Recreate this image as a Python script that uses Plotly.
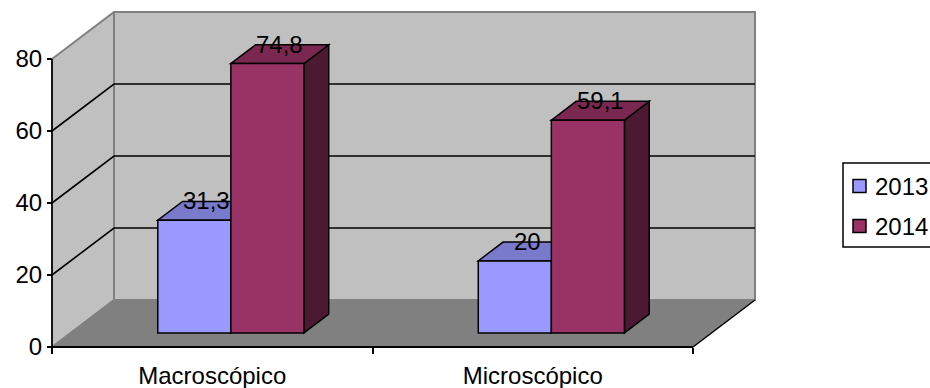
import plotly.graph_objects as go

# ---- data -------------------------------------------------------------
categories = ["Macroscópico", "Microscópico"]
series_names = ["2013", "2014"]
values_2013 = [31.3, 20]
values_2014 = [74.8, 59.1]
value_ticks = [0, 20, 40, 60, 80]

series_values = [values_2013, values_2014]
series_colors = ["#9999FF", "#993366"]

# ---- layout geometry (pixels) -----------------------------------------
W, H = 930, 388
ORIGIN_PX = (52, 347)          # front-floor / y-axis corner
PX_PER_CAT = 320.5             # pixels per category unit
PX_PER_VAL = 3.6               # pixels per value unit
DEPTH_PX = (62, 47)            # oblique offset of the back wall
V_MAX = value_ticks[-1]
N_CAT = len(categories)

DEPTH_X = DEPTH_PX[0] / PX_PER_CAT
DEPTH_Y = DEPTH_PX[1] / PX_PER_VAL
BAR_W = 0.228                  # bar width in category units
BAR_Z = (0.3, 0.7)             # bar depth extent (0 = front, 1 = back wall)

FONT = dict(family="Arial, Liberation Sans, sans-serif", size=24, color="black")


def shade(hex_color, k):
    r, g, b = (int(hex_color[i:i + 2], 16) for i in (1, 3, 5))
    return "#%02X%02X%02X" % (int(r * k), int(g * k), int(b * k))


def P(x, v, z):
    """Oblique projection of (category pos, value, depth) to axis coords."""
    return x + z * DEPTH_X, v + z * DEPTH_Y


def path(points, close=True):
    s = "M " + " L ".join(f"{x:.5f},{y:.5f}" for x, y in points)
    return s + (" Z" if close else "")


shapes = []


def poly(points, fill, line_color="black", line_width=1.5):
    shapes.append(dict(type="path", xref="x", yref="y", path=path(points),
                       fillcolor=fill,
                       line=dict(color=line_color, width=line_width)))


def seg(points, color, width=1.5):
    shapes.append(dict(type="path", xref="x", yref="y", path=path(points, close=False),
                       line=dict(color=color, width=width)))


WALL = "#C0C0C0"
FLOOR = "#808080"
EDGE = "#808080"

# walls and floor
poly([P(0, 0, 0), P(N_CAT, 0, 0), P(N_CAT, 0, 1), P(0, 0, 1)], FLOOR, "rgba(0,0,0,0)", 0)
poly([P(0, 0, 0), P(0, 0, 1), P(0, V_MAX, 1), P(0, V_MAX, 0)], WALL, "rgba(0,0,0,0)", 0)
poly([P(0, 0, 1), P(N_CAT, 0, 1), P(N_CAT, V_MAX, 1), P(0, V_MAX, 1)], WALL, "rgba(0,0,0,0)", 0)

# wall borders
seg([P(0, 0, 0), P(0, 0, 1), P(N_CAT, 0, 1), P(N_CAT, V_MAX, 1),
     P(0, V_MAX, 1), P(0, V_MAX, 0)], EDGE, 2)
seg([P(0, 0, 1), P(0, V_MAX, 1)], EDGE, 2)

# gridlines on the side and back walls
for v in value_ticks[1:-1]:
    seg([P(0, v, 0), P(0, v, 1), P(N_CAT, v, 1)], "black", 1.6)

# floor right edge, x axis line and y axis line
seg([P(N_CAT, 0, 0), P(N_CAT, 0, 1)], "black", 1.5)
seg([P(0, 0, 0), P(N_CAT, 0, 0)], "black", 1.8)
seg([P(0, 0, 0), P(0, V_MAX, 0)], "black", 1.8)

# bars, drawn left to right so each bar hides its left neighbour's side
annotations = []
n_series = len(series_values)
for ci in range(N_CAT):
    group_left = ci + 0.5 - BAR_W * n_series / 2
    for si, vals in enumerate(series_values):
        v = vals[ci]
        x0 = group_left + si * BAR_W
        x1 = x0 + BAR_W
        z0, z1 = BAR_Z
        col = series_colors[si]
        poly([P(x1, 0, z0), P(x1, 0, z1), P(x1, v, z1), P(x1, v, z0)], shade(col, 0.5))
        poly([P(x0, v, z0), P(x1, v, z0), P(x1, v, z1), P(x0, v, z1)], shade(col, 0.8))
        poly([P(x0, 0, z0), P(x1, 0, z0), P(x1, v, z0), P(x0, v, z0)], col)
        lx, ly = P((x0 + x1) / 2, v, (z0 + z1) / 2)
        annotations.append(dict(x=lx, y=ly, xref="x", yref="y", yshift=10,
                                text=f"{v:g}".replace(".", ","),
                                showarrow=False, font=FONT))

# legend box
def px(x):
    return x / W


def py(y):
    return 1 - y / H


shapes.append(dict(type="rect", xref="paper", yref="paper",
                   x0=px(843), x1=px(940), y0=py(247), y1=py(163),
                   fillcolor="white", line=dict(color="black", width=1.5)))
for i, (name, col) in enumerate(zip(series_names, series_colors)):
    cy = 186 + i * 40
    shapes.append(dict(type="rect", xref="paper", yref="paper",
                       x0=px(853), x1=px(866), y0=py(cy + 6.5), y1=py(cy - 6.5),
                       fillcolor=col, line=dict(color="black", width=1.5)))
    annotations.append(dict(x=px(873), y=py(cy), xref="paper", yref="paper",
                            xanchor="left", yanchor="middle", text=name,
                            showarrow=False, font=FONT))

x_range = [-ORIGIN_PX[0] / PX_PER_CAT, (W - ORIGIN_PX[0]) / PX_PER_CAT]
y_range = [-(H - ORIGIN_PX[1]) / PX_PER_VAL, ORIGIN_PX[1] / PX_PER_VAL]
axis_pos_y = (H - ORIGIN_PX[1]) / H
axis_pos_x = ORIGIN_PX[0] / W

fig = go.Figure()
fig.add_trace(go.Scatter(x=[None], y=[None], showlegend=False, hoverinfo="skip"))
fig.add_trace(go.Scatter(x=[None], y=[None], xaxis="x2", showlegend=False, hoverinfo="skip"))

fig.update_layout(
    width=W, height=H,
    margin=dict(l=0, r=0, t=0, b=0),
    paper_bgcolor="white", plot_bgcolor="white",
    showlegend=False,
    font=FONT,
    xaxis=dict(range=x_range, domain=[0, 1], anchor="free", position=axis_pos_y,
               tickmode="array", tickvals=[i + 0.5 for i in range(N_CAT)],
               ticktext=categories, ticks="", showgrid=False, zeroline=False,
               showline=False, automargin=False, ticklabelstandoff=12,
               tickfont=FONT, fixedrange=True),
    xaxis2=dict(range=x_range, domain=[0, 1], overlaying="x", anchor="free",
                position=axis_pos_y, tickmode="array",
                tickvals=list(range(N_CAT + 1)), ticks="outside", ticklen=6,
                tickwidth=1.5, tickcolor="black", showticklabels=False,
                showgrid=False, zeroline=False, showline=False, automargin=False),
    yaxis=dict(range=y_range, domain=[0, 1], anchor="free", position=axis_pos_x,
               tickmode="array", tickvals=value_ticks, ticks="outside", ticklen=5,
               tickwidth=1.5, tickcolor="black", showgrid=False, zeroline=False,
               showline=False, automargin=False, tickfont=FONT, fixedrange=True),
    shapes=shapes,
    annotations=annotations,
)

fig.write_html("out.html")
